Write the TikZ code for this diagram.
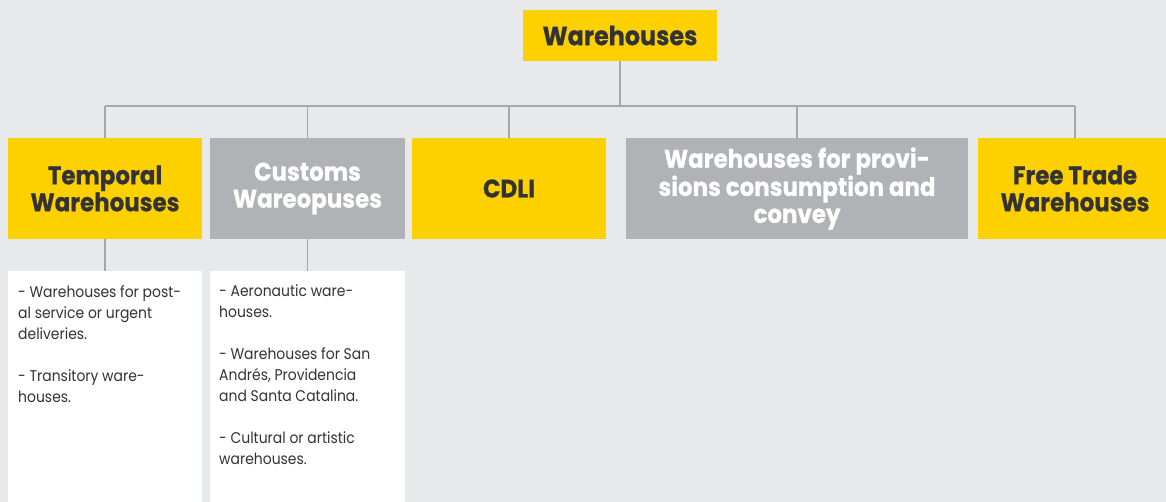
\documentclass[tikz,border=0pt]{standalone}
\usepackage{fontspec}
\setmainfont{Poppins}
\newfontfamily\headfont[FakeStretch=0.9, BoldFeatures={FakeBold=0.6}]{Poppins}
\newfontfamily\bodyfont[FakeStretch=0.9]{Poppins}
\definecolor{bg}{HTML}{E8E9EB}
\definecolor{ylw}{HTML}{FDD000}
\definecolor{gry}{HTML}{B1B2B5}
\definecolor{ln}{HTML}{A6A7A9}
\definecolor{dark}{HTML}{333333}
\tikzset{
  box/.style={rectangle, inner sep=0pt, minimum height=101pt, align=center},
  ybox/.style={box, fill=ylw, text=dark, font=\headfont\bfseries\fontsize{25.5}{27}\selectfont},
  gbox/.style={box, fill=gry, text=white, font=\headfont\bfseries\fontsize{25.5}{27}\selectfont},
  wbox/.style={rectangle, fill=white, inner sep=0pt, minimum height=231pt},
  btext/.style={anchor=north west, align=left, inner sep=0pt, text=dark, font=\bodyfont\fontsize{15.5}{21}\selectfont},
  conn/.style={draw=ln, line width=1.4pt}
}
\begin{document}
\begin{tikzpicture}[x=1pt,y=-1pt]
\fill[bg] (0,0) rectangle (1166,502);
\useasboundingbox (0,0) rectangle (1166,502);
\node[box, fill=ylw, text=dark, minimum width=194pt, minimum height=51pt, font=\headfont\bfseries\fontsize{26.5}{28}\selectfont] (top) at (620,35.5) {Warehouses};
\node[ybox, minimum width=194pt] (t1) at (105,188.5) {Temporal\\Warehouses};
\node[gbox, minimum width=195pt] (t2) at (307.5,188.5) {Customs\\Wareopuses};
\node[ybox, minimum width=194pt] (t3) at (509,188.5) {CDLI};
\node[gbox, minimum width=342pt] (t4) at (797,188.5) {Warehouses for provi-\\sions consumption and\\convey};
\node[ybox, minimum width=194pt] (t5) at (1075,188.5) {Free Trade\\Warehouses};
\node[wbox, minimum width=194pt] (w1) at (105,386.5) {};
\node[wbox, minimum width=195pt] (w2) at (307.5,386.5) {};
\coordinate (bus) at (620,106);
\draw[conn] (top.south) -- (bus);
\draw[conn] (t1.north |- bus) -- (t5.north |- bus);
\foreach \n in {t1,t2,t3,t4,t5} \draw[conn] (\n.north) -- (\n.north |- bus);
\draw[conn] (t1.south) -- (w1.north);
\draw[conn] (t2.south) -- (w2.north);
\node[btext] (l1) at (18,285) {- Warehouses for post-\\al service or urgent\\deliveries.\\[21pt]- Transitory ware-\\houses.};
\node[btext] (l2) at (219,285) {- Aeronautic ware-\\houses.\\[21pt]- Warehouses for San\\Andrés, Providencia\\and Santa Catalina.\\[21pt]- Cultural or artistic\\warehouses.};
\end{tikzpicture}
\end{document}
